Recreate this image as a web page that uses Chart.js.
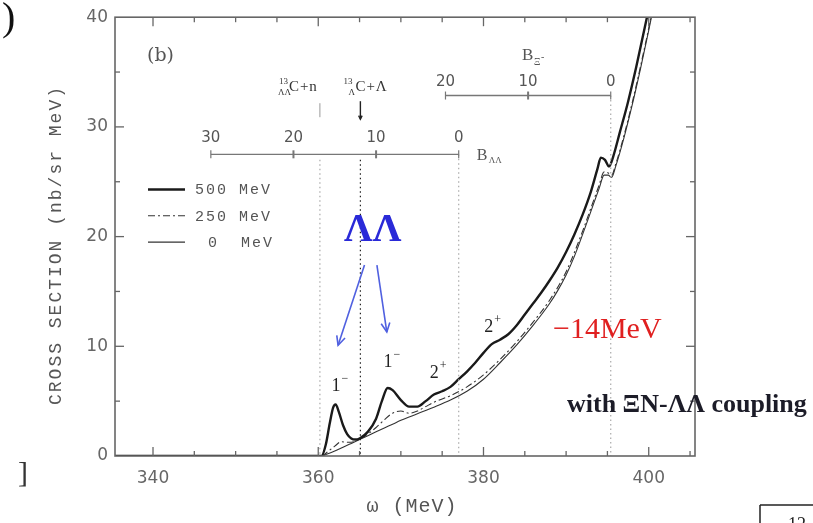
<!DOCTYPE html>
<html>
<head>
<meta charset="utf-8">
<script src="https://cdn.jsdelivr.net/npm/chart.js@4.4.1/dist/chart.umd.min.js"></script>
<style>
  html, body { margin: 0; padding: 0; background: #fff; }
  #wrap { width: 813px; height: 523px; position: relative; }
</style>
</head>
<body>
<div id="wrap"><canvas id="xs"></canvas></div>
<script>
// cross section vs omega, three cut-off masses
const omega500 = [335, 360.4, 360.9, 361.4, 361.8, 362.1, 362.5, 363, 363.5, 364, 364.5, 365, 366, 367, 367.7, 368.4, 369, 370, 371, 372, 373, 374, 375, 376, 377, 378, 379, 380, 381, 382, 383, 384, 385, 386, 387, 388, 389, 390, 391, 392, 393, 393.8, 394.2, 394.7, 395.2, 395.7, 396.5, 397.5, 398.5, 399.5, 400.5]
const xs500 = [0, 0, 1.0, 3.0, 4.4, 4.7, 4.0, 2.8, 2.0, 1.6, 1.5, 1.6, 2.2, 3.4, 5.0, 6.2, 6.0, 5.1, 4.5, 4.5, 5.0, 5.6, 5.9, 6.3, 7.0, 7.7, 8.5, 9.4, 10.2, 10.6, 11.1, 11.9, 12.9, 13.9, 14.9, 16.0, 17.2, 18.6, 20.2, 22.0, 24.1, 26.2, 27.2, 27.0, 26.4, 27.3, 29.5, 32.3, 35.5, 39.0, 42.5]

const omega250 = [335, 360.4, 361, 362, 362.8, 363.5, 364, 365, 366, 367, 368, 369, 370, 371, 372, 373, 374, 376, 378, 380, 382, 384, 386, 388, 390, 392, 393, 394, 394.6, 395.1, 395.5, 396, 397, 398, 399, 400, 401]
const xs250 = [0, 0, 0.3, 0.9, 1.3, 1.25, 1.25, 1.55, 2.0, 2.6, 3.3, 3.9, 4.1, 3.9, 4.1, 4.5, 4.9, 5.5, 6.3, 7.4, 8.8, 10.4, 12.2, 14.2, 16.8, 20.5, 22.6, 24.7, 25.9, 25.8, 25.6, 26.6, 29.2, 32.2, 35.5, 39.0, 42.7]

const omega0 = [335, 360.4, 361, 362, 363, 364, 365, 366, 367, 368, 369, 370, 372, 374, 376, 378, 380, 382, 384, 386, 388, 389, 390, 391, 392, 393, 394, 394.6, 395.1, 395.5, 396, 397, 398, 399, 400, 401]
const xs0 = [0, 0, 0.15, 0.45, 0.8, 1.15, 1.5, 1.85, 2.2, 2.55, 2.9, 3.25, 3.85, 4.45, 5.1, 5.9, 7.0, 8.5, 10.1, 11.9, 13.9, 15.1, 16.5, 18.2, 20.2, 22.3, 24.4, 25.6, 25.6, 25.4, 26.4, 29.0, 32.0, 35.3, 38.8, 42.5]

const xTicks = [340, 360, 380, 400]
const yTicks = [0, 10, 20, 30, 40]
const seriesNames = ['500 MeV', '250 MeV', '0  MeV']

// thresholds (omega) and the binding-energy scales hung on them
const thrLL = 377.0      // B_ΛΛ = 0
const thrXi = 395.4      // B_Ξ- = 0
const thrLLn = 360.2     // 13ΛΛC + n
const thrLLam = 365.1    // 13ΛC + Λ
const bLLTicks = [30, 20, 10, 0]
const bXiTicks = [20, 10, 0]

const toXY = (xs, ys) => xs.map((v, i) => ({ x: v, y: ys[i] }))

const GRAY = '#666'
const INK = '#222'

function line(ctx, x1, y1, x2, y2) {
  ctx.beginPath(); ctx.moveTo(x1, y1); ctx.lineTo(x2, y2); ctx.stroke()
}

function arrowHead(ctx, x1, y1, x2, y2, size) {
  const a = Math.atan2(y2 - y1, x2 - x1)
  ctx.beginPath()
  ctx.moveTo(x2 - size * Math.cos(a - 0.45), y2 - size * Math.sin(a - 0.45))
  ctx.lineTo(x2, y2)
  ctx.lineTo(x2 - size * Math.cos(a + 0.45), y2 - size * Math.sin(a + 0.45))
  ctx.stroke()
}

const decor = {
  id: 'decor',
  afterDatasetsDraw(chart) {
    const { ctx, chartArea: a, scales: { x, y } } = chart
    const px = v => x.getPixelForValue(v)
    const py = v => y.getPixelForValue(v)
    ctx.save()

    // dotted threshold lines
    ctx.lineWidth = 1.2
    ctx.setLineDash([1.5, 3])
    ctx.strokeStyle = '#aaa'
    line(ctx, px(thrLLn), py(27.0), px(thrLLn), a.bottom)
    line(ctx, px(thrLL), py(27.5), px(thrLL), a.bottom)
    line(ctx, px(thrXi), py(32.86), px(thrXi), a.bottom)
    ctx.strokeStyle = INK
    line(ctx, px(thrLLam), py(27.0), px(thrLLam), a.bottom)
    ctx.setLineDash([])

    // frame
    ctx.strokeStyle = GRAY
    ctx.lineWidth = 1.6
    ctx.strokeRect(a.left, a.top, a.right - a.left, a.bottom - a.top)

    // inward ticks on all four sides
    ctx.lineWidth = 1.3
    for (let v = 340; v <= 405; v += 5) {
      const len = v % 20 === 0 ? 9 : 5
      line(ctx, px(v), a.bottom, px(v), a.bottom - len)
      line(ctx, px(v), a.top, px(v), a.top + len)
    }
    for (let v = 5; v < 40; v += 5) {
      const len = v % 10 === 0 ? 9 : 5
      line(ctx, a.left, py(v), a.left + len, py(v))
      line(ctx, a.right, py(v), a.right - len, py(v))
    }

    // B_ΛΛ scale
    ctx.strokeStyle = '#777'
    ctx.lineWidth = 1.4
    const yLL = py(27.5)
    line(ctx, px(thrLL - 30), yLL, px(thrLL), yLL)
    ctx.fillStyle = '#555'
    ctx.font = '15px "DejaVu Sans"'
    ctx.textAlign = 'center'
    ctx.textBaseline = 'alphabetic'
    bLLTicks.forEach(b => {
      const xx = px(thrLL - b)
      ctx.lineWidth = (b === 20 || b === 10) ? 2 : 1.2
      line(ctx, xx, yLL - 4, xx, yLL + 4)
      ctx.fillText(String(b), xx, yLL - 12)
    })
    ctx.font = '16px "Liberation Serif"'
    ctx.textAlign = 'left'
    ctx.fillText('B', px(thrLL) + 18, yLL + 6)
    ctx.font = '9px "Liberation Serif"'
    ctx.fillText('ΛΛ', px(thrLL) + 30, yLL + 9)

    // B_Ξ- scale
    const yXi = py(32.86)
    ctx.lineWidth = 1.4
    line(ctx, px(thrXi - 20), yXi, px(thrXi), yXi)
    ctx.font = '15px "DejaVu Sans"'
    ctx.textAlign = 'center'
    bXiTicks.forEach(b => {
      const xx = px(thrXi - b)
      ctx.lineWidth = b === 10 ? 2 : 1.2
      line(ctx, xx, yXi - 4, xx, yXi + 4)
      ctx.fillText(String(b), xx, yXi - 10)
    })
    ctx.textAlign = 'left'
    ctx.font = '17px "Liberation Serif"'
    ctx.fillText('B', px(thrXi - 10) - 6, a.top + 43)
    ctx.font = '10px "Liberation Serif"'
    ctx.fillText('Ξ', px(thrXi - 10) + 6, a.top + 48)
    ctx.fillText('-', px(thrXi - 10) + 13, a.top + 43)

    // decay-channel labels with arrows
    ctx.fillStyle = '#333'
    const yLab = a.top + 74
    ctx.font = '9px "Liberation Serif"'
    ctx.fillText('13', px(thrLLn) - 41, yLab - 7)
    ctx.fillText('ΛΛ', px(thrLLn) - 42, yLab + 4)
    ctx.font = '15px "Liberation Serif"'
    ctx.letterSpacing = '1px'
    ctx.fillText('C+n', px(thrLLn) - 31, yLab)
    ctx.letterSpacing = '0px'
    ctx.font = '9px "Liberation Serif"'
    ctx.fillText('13', px(thrLLam) - 17, yLab - 7)
    ctx.fillText('Λ', px(thrLLam) - 12, yLab + 4)
    ctx.font = '15px "Liberation Serif"'
    ctx.letterSpacing = '1px'
    ctx.fillText('C+Λ', px(thrLLam) - 5, yLab)
    ctx.letterSpacing = '0px'
    ctx.strokeStyle = '#999'
    ctx.lineWidth = 1
    line(ctx, px(thrLLn), yLab + 12, px(thrLLn), yLab + 26)
    ctx.strokeStyle = INK
    ctx.lineWidth = 1.4
    line(ctx, px(thrLLam), yLab + 10, px(thrLLam), yLab + 28)
    arrowHead(ctx, px(thrLLam), yLab + 10, px(thrLLam), yLab + 28, 4)

    // panel tag
    ctx.fillStyle = '#555'
    ctx.font = '19px "DejaVu Serif"'
    ctx.fillText('(b)', a.left + 32, a.top + 44)

    // legend
    const legY = [py(24.3), py(21.9), py(19.5)]
    chart.data.datasets.forEach((ds, i) => {
      ctx.strokeStyle = ds.borderColor
      ctx.lineWidth = ds.borderWidth
      ctx.setLineDash(ds.borderDash || [])
      line(ctx, a.left + 33, legY[i], a.left + 70, legY[i])
    })
    ctx.setLineDash([])
    ctx.fillStyle = '#555'
    ctx.font = '15px "Liberation Mono"'
    ctx.letterSpacing = '2px'
    seriesNames.forEach((s, i) => {
      ctx.fillText(s, a.left + (i === 2 ? 93 : 80), legY[i] + 5)
    })
    ctx.letterSpacing = '0px'

    // state labels on the peaks
    ctx.fillStyle = INK
    const tag = (main, sup, xx, yy) => {
      ctx.font = '18px "Liberation Serif"'
      ctx.fillText(main, xx, yy)
      ctx.font = '12px "Liberation Serif"'
      ctx.fillText(sup, xx + 10, yy - 9)
    }
    tag('1', '−', px(361.6), py(5.9))
    tag('1', '−', px(367.9), py(8.1))
    tag('2', '+', px(373.5), py(7.1))
    tag('2', '+', px(380.1), py(11.3))

    // ΛΛ marker with arrows to the peaks
    ctx.fillStyle = '#2a2ad8'
    ctx.font = 'bold 40px "Liberation Serif"'
    ctx.textAlign = 'center'
    ctx.fillText('ΛΛ', px(366.6), py(19.6))
    ctx.strokeStyle = '#5060e0'
    ctx.lineWidth = 1.6
    line(ctx, px(365.6), py(17.4), px(362.4), py(10.1))
    arrowHead(ctx, px(365.6), py(17.4), px(362.4), py(10.1), 10)
    line(ctx, px(367.1), py(17.4), px(368.3), py(11.3))
    arrowHead(ctx, px(367.1), py(17.4), px(368.3), py(11.3), 10)

    // annotations on the right
    ctx.fillStyle = '#e02020'
    ctx.font = '30px "Liberation Serif"'
    ctx.textAlign = 'left'
    ctx.fillText('−14MeV', 553, 338)
    ctx.fillStyle = '#1c1c28'
    ctx.font = 'bold 26px "Liberation Serif"'
    ctx.fillText('with ΞN-ΛΛ coupling', 567, 412)

    // axis titles
    ctx.fillStyle = '#555'
    ctx.font = '20px "Liberation Mono"'
    ctx.letterSpacing = '1px'
    ctx.textAlign = 'center'
    ctx.fillText('ω (MeV)', 412, 512)
    ctx.save()
    ctx.translate(61, 245)
    ctx.rotate(-Math.PI / 2)
    ctx.font = '18px "Liberation Mono"'
    ctx.letterSpacing = '2px'
    ctx.fillText('CROSS SECTION (nb/sr MeV)', 0, 0)
    ctx.restore()
    ctx.letterSpacing = '0px'

    // page fragments around the panel
    ctx.fillStyle = '#111'
    ctx.font = '40px "Liberation Serif"'
    ctx.textAlign = 'left'
    ctx.fillText(')', 2, 30)
    ctx.font = '30px "Liberation Serif"'
    ctx.fillStyle = '#333'
    ctx.fillText(']', 18, 482)
    ctx.strokeStyle = '#222'
    ctx.lineWidth = 1.5
    line(ctx, 760, 505, 813, 505)
    line(ctx, 760, 505, 760, 523)
    ctx.fillStyle = '#222'
    ctx.font = '18px "Liberation Serif"'
    ctx.fillText('12', 788, 530)

    ctx.restore()
  }
}

new Chart(document.getElementById('xs'), {
  type: 'line',
  data: {
    datasets: [
      { label: seriesNames[0], data: toXY(omega500, xs500), borderColor: '#1a1a1a', borderWidth: 2.4 },
      { label: seriesNames[1], data: toXY(omega250, xs250), borderColor: '#333', borderWidth: 1.1, borderDash: [7, 3, 2, 3] },
      { label: seriesNames[2], data: toXY(omega0, xs0), borderColor: '#333', borderWidth: 1.1 }
    ]
  },
  options: {
    responsive: true,
    maintainAspectRatio: false,
    animation: false,
    layout: { padding: { left: 0, top: 8, right: 118, bottom: 0 } },
    elements: {
      point: { radius: 0 },
      line: { cubicInterpolationMode: 'monotone', fill: false }
    },
    plugins: { legend: { display: false }, tooltip: { enabled: false } },
    scales: {
      x: {
        type: 'linear',
        min: 335.4,
        max: 405.6,
        afterBuildTicks: s => { s.ticks = xTicks.map(v => ({ value: v })) },
        afterFit: s => { s.height = 67 },
        grid: { display: false, drawTicks: false },
        border: { display: false },
        ticks: { color: '#666', padding: 12, font: { family: 'DejaVu Sans', size: 17 } }
      },
      y: {
        min: 0,
        max: 40,
        afterBuildTicks: s => { s.ticks = yTicks.map(v => ({ value: v })) },
        afterFit: s => { s.width = 115 },
        grid: { display: false, drawTicks: false },
        border: { display: false },
        ticks: { color: '#666', padding: 7, font: { family: 'DejaVu Sans', size: 17 } }
      }
    }
  },
  plugins: [decor]
})
</script>
</body>
</html>
